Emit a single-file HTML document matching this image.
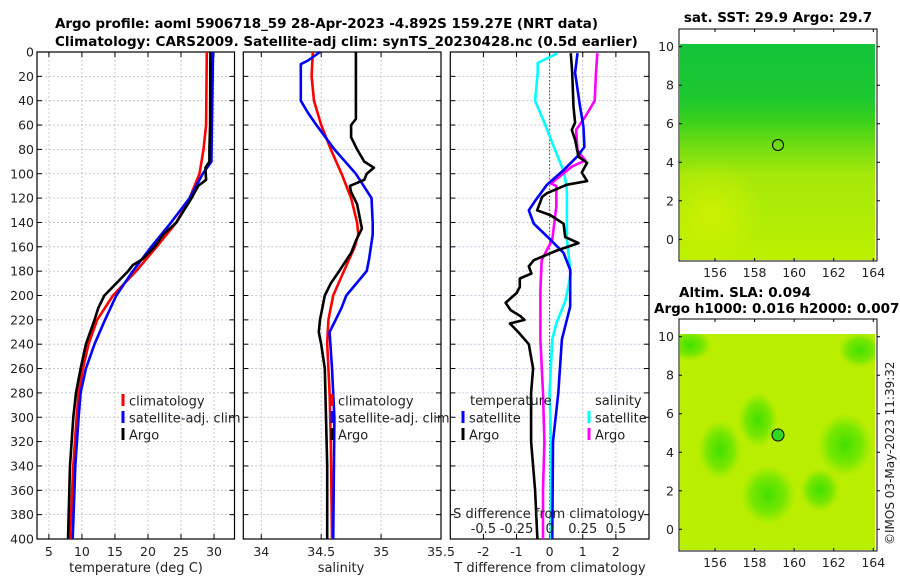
<!DOCTYPE html>
<html><head><meta charset="utf-8">
<style>
html,body{margin:0;padding:0;background:#fff;}
svg{display:block;font-family:"DejaVu Sans","Liberation Sans",sans-serif;}
.tk{font-size:12.5px;fill:#222;}
.ttl{font-size:13.5px;font-weight:bold;fill:#000;}
</style></head>
<body>
<svg id="chart" width="900" height="580" viewBox="0 0 900 580">
<defs>
<linearGradient id="sstg" x1="0" y1="0" x2="0" y2="1">
<stop offset="0" stop-color="#14c43a"/><stop offset="0.25" stop-color="#1cc830"/>
<stop offset="0.35" stop-color="#38d01c"/><stop offset="0.47" stop-color="#70dc12"/>
<stop offset="0.6" stop-color="#a4e80a"/><stop offset="1" stop-color="#bcf000"/>
</linearGradient>
<radialGradient id="yel" cx="0.5" cy="0.5" r="0.5"><stop offset="0" stop-color="#d4f200" stop-opacity="0.8"/><stop offset="1" stop-color="#d4f200" stop-opacity="0"/></radialGradient>
<radialGradient id="grn" cx="0.5" cy="0.5" r="0.5"><stop offset="0" stop-color="#40e000"/><stop offset="0.6" stop-color="#5ce400" stop-opacity="0.7"/><stop offset="1" stop-color="#80e800" stop-opacity="0"/></radialGradient>
<clipPath id="clipTop"><rect x="680" y="44" width="195" height="216"/></clipPath>
<clipPath id="clipBot"><rect x="680" y="334" width="195" height="216"/></clipPath>
</defs>
<g id="titles">
<text class="ttl" x="55" y="28" textLength="543">Argo profile: aoml 5906718_59 28-Apr-2023 -4.892S 159.27E (NRT data)</text>
<text class="ttl" x="55" y="46">Climatology: CARS2009. Satellite-adj clim: synTS_20230428.nc (0.5d earlier)</text>
</g>
<g id="p1"></g><g id="p2"></g><g id="p3"></g>
<g id="maps">
<text class="ttl" x="778" y="22" text-anchor="middle">sat. SST: 29.9 Argo: 29.7</text>
<rect x="679" y="29" width="198" height="232" fill="#fff" stroke="#000"/>
<g clip-path="url(#clipTop)">
<rect x="680" y="44" width="195" height="216" fill="url(#sstg)"/>
<ellipse cx="710" cy="215" rx="55" ry="55" fill="url(#yel)"/>
</g>
<circle cx="778" cy="145" r="5.5" fill="none" stroke="#000"/>
<text class="ttl" x="745" y="297" text-anchor="middle">Altim. SLA: 0.094</text>
<text class="ttl" x="654" y="313">Argo h1000: 0.016 h2000: 0.0073</text>
<rect x="679" y="319" width="198" height="232" fill="#fff" stroke="#000"/>
<g clip-path="url(#clipBot)">
<rect x="680" y="334" width="195" height="216" fill="#baee00"/>
<ellipse cx="690" cy="345" rx="22" ry="16" fill="url(#grn)"/>
<ellipse cx="720" cy="450" rx="22" ry="30" fill="url(#grn)"/>
<ellipse cx="768" cy="495" rx="28" ry="30" fill="url(#grn)"/>
<ellipse cx="758" cy="420" rx="20" ry="28" fill="url(#grn)"/>
<ellipse cx="845" cy="445" rx="28" ry="32" fill="url(#grn)"/>
<ellipse cx="820" cy="490" rx="20" ry="22" fill="url(#grn)"/>
<ellipse cx="860" cy="350" rx="22" ry="18" fill="url(#grn)"/>
</g>
<circle cx="778" cy="435" r="6" fill="#30d820" stroke="#000"/>
<g id="mapaxes"></g>
<text class="tk" transform="translate(894,545) rotate(-90)" style="font-size:12px">©IMOS 03-May-2023 11:39:32</text>
</g>
</svg>
<script>
// ---- data ----
const depthClim = [0,60,80,100,120,140,160,180,200,220,240,260,280,300,340,400];
const tempClim = [28.9,28.8,28.4,27.8,26.3,24.3,21.3,18.2,14.7,12.3,11.0,10.15,9.5,9.2,8.7,8.2];
const depthSat = [0,90,100,120,140,160,180,200,220,240,260,280,300,340,400];
const tempSat = [29.85,29.6,28.3,26.3,23.5,20.5,17.7,15.2,13.5,11.9,10.6,9.8,9.5,9.0,8.6];
const depthArgoT = [0,60,80,90,95,105,110,120,140,150,160,170,175,180,190,200,210,220,240,260,280,300,340,400];
const tempArgo = [29.45,29.4,29.3,29.3,28.7,28.8,27.6,26.6,24.3,22.3,21.0,19.2,17.7,17.0,15.2,13.4,12.5,11.9,10.6,9.8,9.1,8.7,8.2,7.9];

const depthSalClim = [0,20,40,60,80,100,120,140,150,160,180,200,220,240,280,320,400];
const salClim = [34.43,34.42,34.44,34.5,34.58,34.67,34.75,34.8,34.81,34.78,34.69,34.6,34.56,34.55,34.57,34.58,34.59];
const depthSalSat = [0,7,10,40,50,60,80,100,120,140,150,170,180,200,210,220,230,260,280,300,400];
const salSat = [34.49,34.39,34.33,34.33,34.39,34.46,34.61,34.79,34.92,34.93,34.93,34.9,34.88,34.71,34.67,34.62,34.57,34.59,34.6,34.61,34.6];
const depthSalArgo = [0,55,60,70,80,90,95,100,105,110,115,125,145,155,165,180,190,200,220,230,240,260,300,340,400];
const salArgo = [34.79,34.79,34.75,34.75,34.8,34.86,34.94,34.88,34.86,34.74,34.75,34.8,34.84,34.79,34.75,34.65,34.58,34.53,34.49,34.48,34.5,34.53,34.54,34.55,34.55];

const depthDT = [1,17,45,61,78,86,97,109,122,130,141,154,165,179,209,236,280,320,400];
const dTsat = [0.84,0.77,0.92,1.02,1.05,0.83,0.42,-0.08,-0.43,-0.63,-0.48,0.02,0.42,0.62,0.62,0.37,0.26,0.1,0.08];
const depthDTargo = [1,17,45,58,64,72,86,91,99,106,109,116,119,123,130,134,141,152,157,163,171,176,182,186,193,198,206,212,217,220,223,230,240,260,280,320,360,400];
const dTargo = [0.64,0.68,0.72,0.77,0.67,0.77,0.87,1.13,0.97,1.13,0.52,-0.08,-0.23,-0.28,-0.38,0.02,0.42,0.47,0.87,0.22,-0.48,-0.63,-0.55,-0.9,-0.9,-1.0,-1.33,-1.18,-0.88,-0.76,-1.2,-0.95,-0.63,-0.5,-0.56,-0.56,-0.44,-0.37];
const depthDS = [1,9,17,40,58,72,99,113,127,154,182,204,223,236,280,320,400];
const dSsat = [0.06,-0.09,-0.09,-0.11,-0.04,0.01,0.11,0.13,0.13,0.13,0.16,0.12,0.05,0.02,0.0,0.01,0.01];
const depthDSargo = [1,17,40,53,64,81,89,94,108,110,127,154,171,195,236,280,320,360,400];
const dSargo = [0.36,0.35,0.34,0.27,0.2,0.21,0.27,0.17,0.01,0.05,0.05,0.02,-0.06,-0.07,-0.07,-0.05,-0.04,-0.05,-0.05];

const depthTicks = [0,20,40,60,80,100,120,140,160,180,200,220,240,260,280,300,320,340,360,380,400];
const tempTicks = [5,10,15,20,25,30];
const salTicks = [34,34.5,35,35.5];
const dTTicks = [-2,-1,0,1,2];
const dSTicks = [-0.5,-0.25,0,0.25,0.5];
const dSTickLabels = ['-0.5','-0.25','0','0.25','0.5'];
const mapXTicks = [156,158,160,162,164];
const mapYTicks = [0,2,4,6,8,10];

// ---- helpers ----
const NS='http://www.w3.org/2000/svg';
function mk(parent,tag,attrs){const e=document.createElementNS(NS,tag);for(const k in attrs)e.setAttribute(k,attrs[k]);parent.appendChild(e);return e;}
const top0=52, bot0=539;
const yD = d => top0 + d*(bot0-top0)/400;

function panel(g, x0, x1, dmin, dmax, xticks, xlabels, showY){
  const sx = v => x0 + (v-dmin)*(x1-x0)/(dmax-dmin);
  depthTicks.forEach(d=>{ if(d>0&&d<400){
    const l=mk(g,'line',{x1:x0,x2:x1,y1:yD(d),y2:yD(d),stroke:'#b8bcd8','stroke-width':0.8,'stroke-dasharray':'2,2'});
    
    
  }});
  xticks.forEach((v,i)=>{
    const x=sx(v);
    if(x>x0+1&&x<x1-1){
      const l=mk(g,'line',{x1:x,x2:x,y1:top0,y2:bot0,stroke:'#c8b8c8','stroke-width':0.8,'stroke-dasharray':'2,2'});
      
      
    }
    mk(g,'line',{x1:x,x2:x,y1:bot0,y2:bot0-5,stroke:'#000'});
    mk(g,'line',{x1:x,x2:x,y1:top0,y2:top0+5,stroke:'#000'});
    const t=mk(g,'text',{x:x,y:556,'text-anchor':'middle',class:'tk'});
    t.textContent=xlabels?xlabels[i]:String(v);
    
    
  });
  depthTicks.forEach(d=>{
    mk(g,'line',{x1:x0,x2:x0+5,y1:yD(d),y2:yD(d),stroke:'#000'});
    mk(g,'line',{x1:x1,x2:x1-5,y1:yD(d),y2:yD(d),stroke:'#000'});
    if(showY){const t=mk(g,'text',{x:x0-3,y:yD(d)+4.5,'text-anchor':'end',class:'tk'});t.textContent=d;
      
      }
  });
  const r=mk(g,'rect',{x:x0,y:top0,width:x1-x0,height:bot0-top0,fill:'none',stroke:'#000','stroke-width':1.2});
  
  
  return sx;
}
function line(g,sx,vals,depths,color,name){
  const pts=vals.map((v,i)=>sx(v).toFixed(1)+','+yD(depths[i]).toFixed(1)).join(' ');
  const p=mk(g,'polyline',{points:pts,fill:'none',stroke:color,'stroke-width':2.6,'stroke-linejoin':'round'});
  
  
}
function legend(g,x,y,color,label,name){
  mk(g,'rect',{x:x-1.5,y:y-7,width:3,height:12,fill:color});
  const t=mk(g,'text',{x:x+6,y:y+4.5,class:'tk',style:'font-size:13px'});t.textContent=label;
  
  
}
function label(g,x,y,txt,name){const t=mk(g,'text',{x:x,y:y,'text-anchor':'middle',class:'tk',style:'font-size:13px'});t.textContent=txt;
  
  }

// panel 1
const g1=document.getElementById('p1');
const sx1=panel(g1,37,234.5,3.2,33.1,tempTicks,null,true);
line(g1,sx1,tempClim,depthClim,'#ff0000','temp-climatology-line');
line(g1,sx1,tempSat,depthSat,'#0000ff','temp-satellite-line');
line(g1,sx1,tempArgo,depthArgoT,'#000000','temp-argo-line');
legend(g1,123,401,'#ff0000','climatology','legend-climatology');
legend(g1,123,418,'#0000ff','satellite-adj. clim','legend-satellite');
legend(g1,123,435,'#000000','Argo','legend-argo');
label(g1,136,572,'temperature (deg C)','x-axis-title-temperature');

// panel 2
const g2=document.getElementById('p2');
const sx2=panel(g2,243.3,441,33.85,35.5,salTicks,null,false);
line(g2,sx2,salClim,depthSalClim,'#ff0000','sal-climatology-line');
line(g2,sx2,salSat,depthSalSat,'#0000ff','sal-satellite-line');
line(g2,sx2,salArgo,depthSalArgo,'#000000','sal-argo-line');
legend(g2,332,401,'#ff0000','climatology','legend-climatology');
legend(g2,332,418,'#0000ff','satellite-adj. clim','legend-satellite');
legend(g2,332,435,'#000000','Argo','legend-argo');
label(g2,341,572,'salinity','x-axis-title-salinity');

// panel 3
const g3=document.getElementById('p3');
const sx3=panel(g3,450.3,649,-3,3,dTTicks,null,false);
const sxS = v => sx3(v*4);
const z=mk(g3,'line',{x1:sx3(0),x2:sx3(0),y1:top0,y2:bot0,stroke:'#444','stroke-width':1,'stroke-dasharray':'1.5,2'});


line(g3,sxS,dSsat,depthDS,'#00ffff','sdiff-satellite-line');
line(g3,sxS,dSargo,depthDSargo,'#ff00ff','sdiff-argo-line');
line(g3,sx3,dTsat,depthDT,'#0000ff','tdiff-satellite-line');
line(g3,sx3,dTargo,depthDTargo,'#000000','tdiff-argo-line');
const tt=mk(g3,'text',{x:470,y:405,class:'tk',style:'font-size:13px'});tt.textContent='temperature';


legend(g3,463,418,'#0000ff','satellite','legend-t-satellite');
legend(g3,463,435,'#000000','Argo','legend-t-argo');
const st=mk(g3,'text',{x:595,y:405,class:'tk',style:'font-size:13px'});st.textContent='salinity';


legend(g3,589,418,'#00ffff','satellite','legend-s-satellite');
legend(g3,589,435,'#ff00ff','Argo','legend-s-argo');
label(g3,549,518,'S difference from climatology','s-axis-title');
dSTicks.forEach((v,i)=>{const t=mk(g3,'text',{x:sxS(v),y:533,'text-anchor':'middle',class:'tk',style:'font-size:13px'});t.textContent=dSTickLabels[i];
  
  });
label(g3,550,572,'T difference from climatology','x-axis-title-tdiff');

// map axes
const ma=document.getElementById('mapaxes');
function mapAxes(y0,y1,y10,yZero){
  const sx = v => 715 + (v-156)*(873.3-715)/8;
  const sy = v => yZero + v*(y10-yZero)/10;
  mapXTicks.forEach(v=>{
    mk(ma,'line',{x1:sx(v),x2:sx(v),y1:y1,y2:y1-3,stroke:'#000'});
    mk(ma,'line',{x1:sx(v),x2:sx(v),y1:y0,y2:y0+3,stroke:'#000'});
    const t=mk(ma,'text',{x:sx(v),y:y1+16,'text-anchor':'middle',class:'tk'});t.textContent=v;
    
    
  });
  mapYTicks.forEach(v=>{
    mk(ma,'line',{x1:679,x2:682,y1:sy(v),y2:sy(v),stroke:'#000'});
    mk(ma,'line',{x1:877,x2:880,y1:sy(v),y2:sy(v),stroke:'#000'});
    const t=mk(ma,'text',{x:674,y:sy(v)+4.5,'text-anchor':'end',class:'tk'});t.textContent=v;
    
    
  });
}
mapAxes(29,261,46.7,239.3);
mapAxes(319,551,336.7,529.3);
</script>
</body></html>
